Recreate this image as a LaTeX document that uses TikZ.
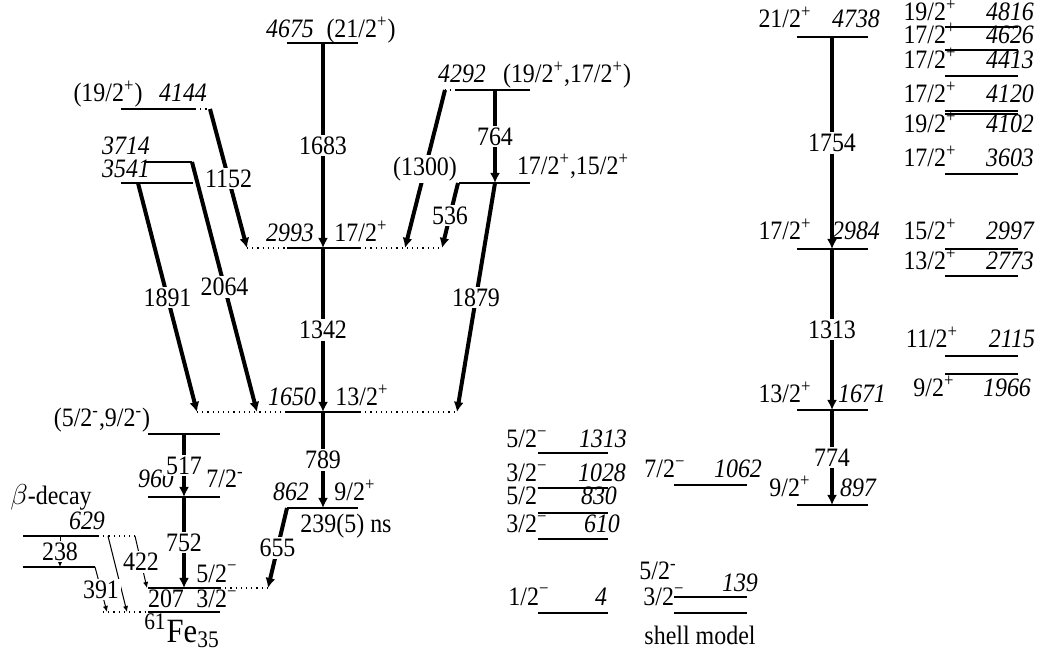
\documentclass[tikz,border=0pt]{standalone}
\usepackage{fontspec}
\setmainfont[FakeStretch=0.9]{Liberation Serif}
\usetikzlibrary{arrows.meta}

\newcommand{\up}[1]{\textsuperscript{#1}}

\begin{document}
\begin{tikzpicture}[
x=0.5pt, y=-0.5pt,
every node/.style={font=\fontsize{13.3}{15}\selectfont},
lvl/.style={line width=0.6pt},
dots/.style={line width=0.6pt, dotted},
gam/.style={-{Latex[length=5pt,width=5pt]}, line width=2pt},
gthin/.style={-{Latex[length=3pt,width=2.6pt]}, line width=0.5pt},
glab/.style={fill=white, inner sep=1pt},
en/.style={anchor=base, inner sep=0.5pt, font=\fontsize{13.3}{15}\selectfont\itshape},
jp/.style={anchor=base, inner sep=0.5pt} ]

\useasboundingbox (0,0) rectangle (1043,656);

% 61Fe, experimental levels
\draw[lvl] (287,43) -- (358,43);
\node[en] (n4675) at (290,38) {4675};
\node[jp] (j4675) at (361,38) {(21/2\up{+})};

\draw[lvl] (121,109) -- (195,109);
\draw[dots] (195,109) -- (210,109);
\node[jp] (j4144) at (108,102) {(19/2\up{+})};
\node[en] (n4144) at (183,102) {4144};

\draw[lvl] (145,162) -- (192,162);
\node[en] (n3714) at (126,155) {3714};

\draw[lvl] (121,183) -- (193,183);
\node[en] (n3541) at (126,178) {3541};

\draw[dots] (445,90) -- (457,90);
\draw[lvl] (457,90) -- (530,90);
\node[en] (n4292) at (462,83) {4292};
\node[jp] (j4292) at (567,83) {(19/2\up{+},17/2\up{+})};

\draw[lvl] (458,183) -- (530,183);
\node[jp] (j3528) at (573,175) {17/2\up{+},15/2\up{+}};

\draw[dots] (247,248) -- (287,248);
\draw[lvl] (287,248) -- (360,248);
\draw[dots] (360,248) -- (443,248);
\node[en] (n2993) at (290,242) {2993};
\node[jp] (j2993) at (361,242) {17/2\up{+}};

\draw[dots] (197,412) -- (287,412);
\draw[lvl] (287,412) -- (360,412);
\draw[dots] (360,412) -- (457,412);
\node[en] (n1650) at (292,406) {1650};
\node[jp] (j1650) at (362,406) {13/2\up{+}};

\draw[lvl] (148,434) -- (220,434);
\node[jp] (j1477) at (102,427) {(5/2\up{-},9/2\up{-})};

\draw[lvl] (148,497) -- (220,497);
\node[en] (n960) at (156,488) {960};
\node[jp] (j960) at (225,488) {7/2\up{-}};

\draw[lvl] (287,508) -- (358,508);
\node[en] (n862) at (291,501) {862};
\node[jp] (j862) at (355,501) {9/2\up{+}};
\node[jp] (t862) at (346,533) {239(5) ns};

\draw[lvl] (148,588) -- (220,588);
\draw[dots] (220,588) -- (268,588);
\node[jp] (j207) at (217,582) {5/2\up{−}};
\node[jp] (n207) at (166,608) {207};
\node[jp] (j0) at (217,608) {3/2\up{−}};

\draw[dots] (103,612) -- (148,612);
\draw[lvl] (148,612) -- (220,612);
\node[jp, font=\fontsize{17}{19}\selectfont] (fe) at (182,642) {\up{61}Fe\textsubscript{35}};

% beta decay
\node[jp] (beta) at (51,505) {$\beta$-decay};
\draw[lvl] (23,536) -- (98,536);
\draw[dots] (98,536) -- (135,536);
\node[en] (n629) at (87,530) {629};
\draw[lvl] (23,567) -- (95,567);

% arrow ends
\coordinate (e4675) at (323,43);
\coordinate (e2993) at (323,248);
\coordinate (e1650) at (323,412);
\coordinate (e862) at (323,508);
\coordinate (s4144) at (210,109);
\coordinate (f2993a) at (247,248);
\coordinate (s3714) at (192,162);
\coordinate (f1650b) at (257,412);
\coordinate (s3541) at (138,183);
\coordinate (f1650a) at (197,412);
\coordinate (s4292a) at (445,90);
\coordinate (f2993b) at (405,248);
\coordinate (s4292b) at (495,90);
\coordinate (e3528) at (495,183);
\coordinate (s3528) at (458,183);
\coordinate (f2993c) at (442,248);
\coordinate (f1650c) at (457,412);
\coordinate (s862) at (287,508);
\coordinate (f207) at (268,588);
\coordinate (e1477) at (184,434);
\coordinate (e960) at (184,497);
\coordinate (e207) at (184,588);
\coordinate (b629a) at (60,536);
\coordinate (b238a) at (60,567);
\coordinate (b238) at (95,567);
\coordinate (f0a) at (107,612);
\coordinate (b629b) at (108,536);
\coordinate (f0b) at (127,612);
\coordinate (b629c) at (135,536);
\coordinate (f207b) at (147,588);

\draw[gam] (e4675) -- node[glab] (g1683) {1683} (e2993);

\draw[gam] (e2993) -- node[glab] (g1342) {1342} (e1650);

\draw[gam] (e1650) -- node[glab] (g789) {789} (e862);

\draw[gam] (s4144) -- node[glab] (g1152) {1152} (f2993a);

\draw[gam] (s3714) -- node[glab] (g2064) {2064} (f1650b);

\draw[gam] (s3541) -- node[glab] (g1891) {1891} (f1650a);

\draw[gam] (s4292a) -- node[glab] (g1300) {(1300)} (f2993b);

\draw[gam] (s4292b) -- node[glab] (g764) {764} (e3528);

\draw[gam] (s3528) -- node[glab] (g536) {536} (f2993c);

\draw[gam] (e3528) -- node[glab] (g1879) {1879} (f1650c);

\draw[gam] (s862) -- node[glab] (g655) {655} (f207);

\draw[gam] (e1477) -- node[glab] (g517) {517} (e960);

\draw[gam] (e960) -- node[glab] (g752) {752} (e207);

\draw[gthin] (b629a) -- node[glab] (g238) {238} (b238a);

\draw[gthin] (b629b) -- (f0b);

\draw[gthin] (b238) -- node[glab] (g391) {391} (f0a);

\draw[gthin] (b629c) -- node[glab] (g422) {422} (f207b);

% shell model, negative parity
\draw[lvl] (538,453) -- (608,453);
\node[jp] (j1313) at (527,448) {5/2\up{−}};
\node[en] (n1313) at (603,448) {1313};

\draw[lvl] (538,488) -- (608,488);
\node[jp] (j1028) at (527,482) {3/2\up{−}};
\node[en] (n1028) at (602,482) {1028};

\draw[lvl] (538,513) -- (608,513);
\node[jp] (j830) at (527,505) {5/2\up{−}};
\node[en] (n830) at (599,505) {830};

\draw[lvl] (538,539) -- (608,539);
\node[jp] (j610) at (527,533) {3/2\up{−}};
\node[en] (n610) at (602,533) {610};

\draw[lvl] (538,613) -- (608,613);
\node[jp] (j4) at (529,605) {1/2\up{−}};
\node[en] (n4) at (601,605) {4};

\draw[lvl] (674,485) -- (747,485);
\node[jp] (j1062) at (665,478) {7/2\up{−}};
\node[en] (n1062) at (738,478) {1062};

\draw[lvl] (674,597) -- (747,597);
\node[jp] (j139) at (658,580) {5/2\up{-}};
\node[en] (n139) at (740,592) {139};

\draw[lvl] (674,613) -- (747,613);
\node[jp] (j0sm) at (664,605) {3/2\up{−}};
\node[jp] (sm) at (700,645) {shell model};

% shell model, positive parity band
\draw[lvl] (797,37) -- (868,37);
\node[jp] (j4738) at (785,28) {21/2\up{+}};
\node[en] (n4738) at (856,28) {4738};

\draw[lvl] (797,249) -- (868,249);
\node[jp] (j2984) at (785,240) {17/2\up{+}};
\node[en] (n2984) at (856,240) {2984};

\draw[lvl] (797,410) -- (868,410);
\node[jp] (j1671) at (785,403) {13/2\up{+}};
\node[en] (n1671) at (862,403) {1671};

\draw[lvl] (797,505) -- (868,505);
\node[jp] (j897) at (790,497) {9/2\up{+}};
\node[en] (n897) at (858,497) {897};

\coordinate (m4738) at (832,37);
\coordinate (m2984) at (832,249);
\coordinate (m1671) at (832,410);
\coordinate (m897) at (832,505);

\draw[gam] (m4738) -- node[glab] (g1754) {1754} (m2984);

\draw[gam] (m2984) -- node[glab] (g1313) {1313} (m1671);

\draw[gam] (m1671) -- node[glab] (g774) {774} (m897);

% shell model, other positive parity levels
\draw[lvl] (945,27) -- (1018,27);
\node[jp] (j4816) at (930,21) {19/2\up{+}};
\node[en] (n4816) at (1010,21) {4816};

\draw[lvl] (945,50) -- (1018,50);
\node[jp] (j4626) at (930,44) {17/2\up{+}};
\node[en] (n4626) at (1010,44) {4626};

\draw[lvl] (945,76) -- (1018,76);
\node[jp] (j4413) at (930,69) {17/2\up{+}};
\node[en] (n4413) at (1010,69) {4413};

\draw[lvl] (945,111) -- (1018,111);
\draw[lvl] (945,114) -- (1018,114);
\node[jp] (j4120) at (930,103) {17/2\up{+}};
\node[en] (n4120) at (1010,103) {4120};
\node[jp] (j4102) at (930,133) {19/2\up{+}};
\node[en] (n4102) at (1010,133) {4102};

\draw[lvl] (945,174) -- (1018,174);
\node[jp] (j3603) at (930,167) {17/2\up{+}};
\node[en] (n3603) at (1010,167) {3603};

\draw[lvl] (945,249) -- (1018,249);
\node[jp] (j2997) at (930,240) {15/2\up{+}};
\node[en] (n2997) at (1010,240) {2997};

\draw[lvl] (945,276) -- (1018,276);
\node[jp] (j2773) at (930,270) {13/2\up{+}};
\node[en] (n2773) at (1010,270) {2773};

\draw[lvl] (945,356) -- (1018,356);
\node[jp] (j2115) at (932,348) {11/2\up{+}};
\node[en] (n2115) at (1012,348) {2115};

\draw[lvl] (945,374) -- (1018,374);
\node[jp] (j1966) at (934,397) {9/2\up{+}};
\node[en] (n1966) at (1007,397) {1966};

\end{tikzpicture}
\end{document}
